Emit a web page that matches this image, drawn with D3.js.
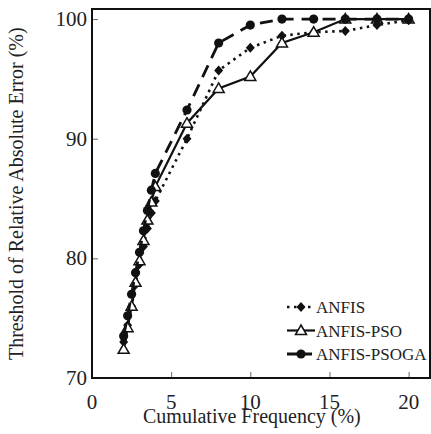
<!DOCTYPE html>
<html>
<head>
<meta charset="utf-8">
<script src="https://cdn.jsdelivr.net/npm/d3@7"></script>
<style>
  body { margin: 0; background: #fff; }
</style>
</head>
<body>
<div id="chart"></div>
<script>
// cumulative frequency (%) vs threshold of relative absolute error (%)
const freq   = [2, 2.25, 2.5, 2.75, 3, 3.25, 3.5, 3.75, 4, 6, 8, 10, 12, 14, 16, 18, 20]
const anfis  = [73.0, 74.4, 76.0, 77.8, 79.5, 81.0, 82.5, 83.8, 84.8, 90.0, 95.7, 97.6, 98.6, 98.9, 99.0, 99.5, 99.9]
const pso    = [72.4, 74.2, 76.0, 78.0, 79.8, 81.5, 83.2, 84.7, 86.0, 91.3, 94.2, 95.2, 98.0, 98.9, 100, 100, 100]
const psoga  = [73.5, 75.2, 77.0, 78.8, 80.5, 82.3, 84.0, 85.7, 87.1, 92.4, 98.0, 99.5, 100, 100, 100, 100, 100]
const xTicks = [0, 5, 10, 15, 20]
const yTicks = [70, 80, 90, 100]

const W = 431, H = 434
const margin = { top: 9, right: 1, bottom: 56, left: 92 }
const plotW = W - margin.left - margin.right
const plotH = H - margin.top - margin.bottom
const FONT = "Times New Roman"

const svg = d3.select("#chart").append("svg")
  .attr("width", W).attr("height", H)
  .attr("font-family", FONT)

const g = svg.append("g")
  .attr("transform", `translate(${margin.left},${margin.top})`)

const x = d3.scaleLinear().domain([0, 21.35]).range([0, plotW])
const y = d3.scaleLinear().domain([70, 100.84]).range([plotH, 0])

// inward ticks, labels placed separately below
g.append("g")
  .attr("transform", `translate(0,${plotH})`)
  .call(d3.axisBottom(x).tickValues(xTicks.slice(1)).tickSize(-6).tickFormat(""))
  .call(a => a.select(".domain").remove())
  .selectAll(".tick line").attr("stroke", "#666")

g.append("g")
  .call(d3.axisLeft(y).tickValues(yTicks.slice(1)).tickSize(-6).tickFormat(""))
  .call(a => a.select(".domain").remove())
  .selectAll(".tick line").attr("stroke", "#666")

// tick labels
g.selectAll("text.xt").data(xTicks).join("text")
  .attr("class", "xt")
  .attr("x", d => x(d)).attr("y", plotH + 31)
  .attr("text-anchor", "middle")
  .attr("font-family", FONT).attr("font-size", 21).attr("fill", "#222")
  .text(d => d)

g.selectAll("text.yt").data(yTicks).join("text")
  .attr("class", "yt")
  .attr("x", -5).attr("y", d => y(d) + 7)
  .attr("text-anchor", "end")
  .attr("font-family", FONT).attr("font-size", 21).attr("fill", "#222")
  .text(d => d)

// axis titles
g.append("text")
  .attr("x", x(10.1)).attr("y", plotH + 45)
  .attr("text-anchor", "middle")
  .attr("font-family", FONT).attr("font-size", 20).attr("fill", "#222")
  .text("Cumulative Frequency (%)")

g.append("text")
  .attr("transform", "rotate(-90)")
  .attr("x", -y(85.4)).attr("y", -69)
  .attr("text-anchor", "middle")
  .attr("font-family", FONT).attr("font-size", 20).attr("fill", "#222")
  .text("Threshold of Relative Absolute Error (%)")

const series = [
  { name: "ANFIS",       vals: anfis, dash: "2.5,4.5", width: 2.6, marker: "diamond" },
  { name: "ANFIS-PSO",   vals: pso,   dash: null,     width: 2.2, marker: "triangle" },
  { name: "ANFIS-PSOGA", vals: psoga, dash: "13,8",   width: 2.8, marker: "circle" }
]

const line = d3.line().x(d => x(d[0])).y(d => y(d[1]))

function drawMarker(sel, type) {
  if (type === "diamond") {
    sel.append("path").attr("d", "M0,-5L4.5,0L0,5L-4.5,0Z").attr("fill", "#111")
  } else if (type === "triangle") {
    sel.append("path").attr("d", "M0,-5.5L5.5,4L-5.5,4Z")
      .attr("fill", "#fff").attr("stroke", "#111").attr("stroke-width", 1.5)
  } else {
    sel.append("circle").attr("r", 4.6).attr("fill", "#111")
  }
}

series.forEach(s => {
  const pts = freq.map((f, i) => [f, s.vals[i]])
  g.append("path")
    .datum(pts)
    .attr("d", line)
    .attr("fill", "none")
    .attr("stroke", "#111")
    .attr("stroke-width", s.width)
    .attr("stroke-dasharray", s.dash)
  pts.forEach(p => {
    const m = g.append("g").attr("transform", `translate(${x(p[0])},${y(p[1])})`)
    drawMarker(m, s.marker)
  })
})

// frame
g.append("rect")
  .attr("x", 0).attr("y", 0)
  .attr("width", plotW).attr("height", plotH)
  .attr("fill", "none").attr("stroke", "#111").attr("stroke-width", 2)

// legend
const legendG = svg.append("g").attr("transform", "translate(287, 307)")
series.forEach((s, i) => {
  const row = legendG.append("g").attr("transform", `translate(0,${i * 23.5})`)
  row.append("line")
    .attr("x1", 0).attr("x2", 28).attr("y1", 0).attr("y2", 0)
    .attr("stroke", "#111").attr("stroke-width", s.width)
    .attr("stroke-dasharray", s.dash === "13,8" ? "10,5" : s.dash)
  const m = row.append("g").attr("transform", "translate(14,0)")
  drawMarker(m, s.marker)
  row.append("text")
    .attr("x", 29).attr("y", 6)
    .attr("font-family", FONT).attr("font-size", 17).attr("fill", "#222")
    .text(s.name)
})
</script>
</body>
</html>
